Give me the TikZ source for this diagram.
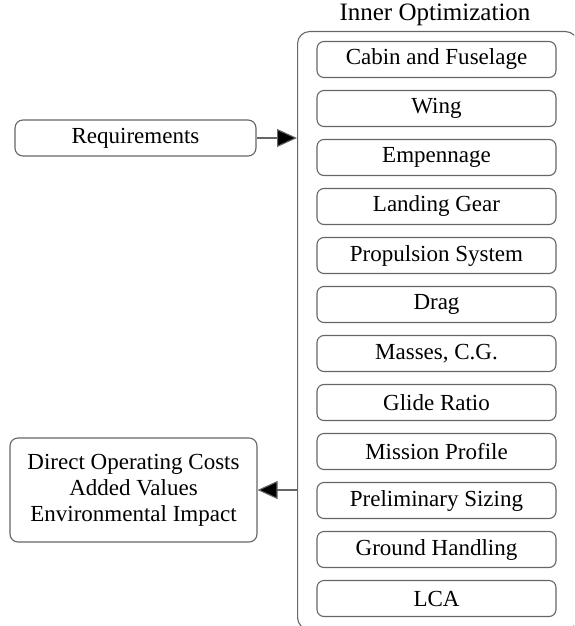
\documentclass[tikz,border=0pt]{standalone}
\usepackage{fontspec}
\setmainfont{Liberation Serif}
\usetikzlibrary{arrows.meta,positioning}

\begin{document}
\begin{tikzpicture}[x=1pt,y=-1pt,
  boxline/.style={draw=black!60, line width=1.1pt},
  modbox/.style={boxline, rounded corners=7pt, minimum width=239pt, minimum height=36pt,
    inner sep=0pt, font=\fontsize{23}{26}\selectfont},
  sidebox/.style={boxline, rounded corners=8pt, inner sep=0pt, align=center,
    font=\fontsize{23}{26}\selectfont},
  flow/.style={draw=black!60, line width=1.1pt,
    -{Triangle[length=20pt,width=18pt,fill=black]}}
]
\useasboundingbox (0,0) rectangle (574,626);
\clip (0,0) rectangle (574,626);

% outer frame of the inner optimization loop
\node[boxline, rounded corners=12pt, minimum width=280pt, minimum height=598pt,
      inner sep=0pt, anchor=north west] (opt) at (297,31) {};
\node[font=\fontsize{25}{28}\selectfont] (title) at (435,15) {Inner Optimization};

% discipline modules
\foreach \lbl [count=\i from 0] in {Cabin and Fuselage, Wing, Empennage, Landing Gear,
    Propulsion System, Drag, {Masses, C.G.}, Glide Ratio, Mission Profile,
    Preliminary Sizing, Ground Handling, LCA}
  \node[modbox] (m\i) at (436.5, 59.5+49*\i) {\lbl};

% inputs and outputs
\node[sidebox, minimum width=241pt, minimum height=36pt] (req) at (135.5,138) {Requirements};
\node[sidebox, minimum width=247pt, minimum height=104pt] (out) at (133.5,490)
  {Direct Operating Costs\\Added Values\\Environmental Impact};

\draw[flow] (req.east) -- (req.east -| opt.west);
\draw[flow] (out.east -| opt.west) -- (out.east);
\end{tikzpicture}
\end{document}
